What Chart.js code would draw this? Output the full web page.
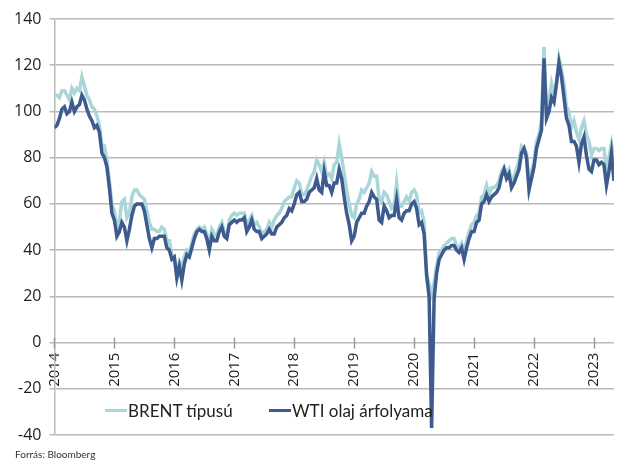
<!DOCTYPE html>
<html>
<head>
<meta charset="utf-8">
<script src="https://cdn.jsdelivr.net/npm/chart.js@4"></script>
<style>
  html, body { margin: 0; padding: 0; background: #fff; }
  #wrap { position: relative; width: 622px; height: 461px; }
  .legend-item { position: absolute; top: 400px; display: flex; align-items: center;
    font: 17px Lato, sans-serif; color: #222; white-space: nowrap; }
  .legend-item .swatch { width: 22px; height: 3.5px; margin-right: 1px; }
  #source { position: absolute; left: 15px; top: 448px; font: 10px Lato, sans-serif; color: #333; }
</style>
</head>
<body>
<div id="wrap">
  <canvas id="chart" width="622" height="461"></canvas>
  <div class="legend-item" style="left:105px"><span class="swatch" style="background:#a9d7d9"></span>BRENT típusú</div>
  <div class="legend-item" style="left:269px"><span class="swatch" style="background:#3d5b8e"></span>WTI olaj árfolyama</div>
  <div id="source">Forrás: Bloomberg</div>
</div>
<script>
// Brent and WTI prices (USD/barrel), two readings per month (1st, 16th), Jan 2014 - end Apr 2023
const startYear = 2014;
const pointsPerYear = 24;

const brent = [
  // 2014
  107, 107, 106, 109, 109, 107, 105, 110, 108, 110, 109, 115,
  111, 107, 105, 102, 101, 98, 94, 85, 85, 79, 70, 60,
  // 2015
  57, 49, 53, 61, 62, 54, 56, 63, 66, 66, 64, 63,
  62, 57, 52, 49, 49, 48, 48, 50, 49, 44, 44, 38,
  // 2016
  37, 29, 35, 33, 37, 40, 39, 43, 47, 49, 50, 49,
  50, 47, 42, 49, 47, 46, 50, 52, 48, 46, 53, 55,
  // 2017
  56, 55, 56, 56, 56, 51, 53, 55, 51, 52, 50, 47,
  48, 49, 52, 50, 53, 55, 56, 58, 61, 62, 63, 63,
  // 2018
  67, 70, 69, 64, 64, 66, 69, 72, 74, 79, 77, 74,
  78, 72, 73, 71, 77, 78, 86, 80, 73, 66, 60, 55,
  // 2019
  54, 60, 62, 66, 65, 67, 69, 74, 72, 72, 62, 61,
  65, 64, 61, 58, 59, 69, 59, 59, 61, 63, 61, 65,
  // 2020
  66, 64, 56, 57, 52, 30, 25, 21, 26, 33, 39, 40,
  42, 43, 44, 45, 45, 42, 41, 43, 39, 44, 48, 51,
  // 2021
  52, 55, 56, 63, 64, 68, 64, 67, 67, 68, 70, 74,
  76, 73, 75, 69, 72, 75, 79, 85, 84, 82, 69, 74,
  // 2022
  78, 87, 90, 96, 128, 100, 105, 112, 107, 113, 123, 118,
  112, 102, 100, 93, 96, 91, 88, 93, 96, 90, 87, 81,
  // 2023
  84, 84, 83, 84, 84, 74, 80, 86, 79
];

const wti = [
  // 2014
  93, 94, 97, 101, 102, 99, 100, 104, 100, 102, 103, 107,
  105, 101, 98, 96, 93, 94, 91, 82, 80, 76, 67, 56,
  // 2015
  53, 46, 48, 52, 50, 44, 49, 55, 59, 60, 60, 60,
  57, 51, 45, 41, 45, 45, 46, 46, 46, 41, 40, 36,
  // 2016
  37, 28, 33, 27, 34, 38, 37, 41, 45, 48, 49, 48,
  48, 45, 40, 46, 44, 44, 48, 50, 46, 45, 51, 52,
  // 2017
  53, 52, 53, 53, 54, 48, 50, 53, 49, 48, 48, 45,
  46, 47, 49, 47, 47, 50, 51, 52, 54, 55, 58, 57,
  // 2018
  60, 64, 65, 61, 61, 62, 65, 66, 67, 71, 66, 65,
  74, 68, 68, 65, 69, 69, 75, 71, 63, 56, 51, 44,
  // 2019
  46, 52, 54, 56, 56, 59, 61, 65, 63, 62, 53, 52,
  59, 57, 54, 55, 55, 62, 54, 53, 56, 57, 57, 60,
  // 2020
  61, 58, 51, 52, 47, 29, 20, -37, 19, 30, 36, 38,
  40, 41, 41, 42, 42, 40, 39, 41, 36, 41, 45, 48,
  // 2021
  48, 52, 53, 60, 61, 64, 61, 63, 64, 65, 67, 72,
  75, 71, 73, 67, 69, 72, 75, 82, 84, 80, 66, 71,
  // 2022
  76, 84, 88, 92, 123, 97, 100, 106, 104, 112, 121, 115,
  106, 97, 94, 87, 87, 85, 78, 86, 89, 81, 75, 74,
  // 2023
  79, 79, 77, 78, 77, 68, 74, 82, 70
];

const yearTicks = [2014, 2015, 2016, 2017, 2018, 2019, 2020, 2021, 2022, 2023];
const xMax = 2023 + 1 / 3;

const toPoints = series => series.map((v, i) => ({ x: startYear + i / pointsPerYear, y: v }));

const gridColor = '#b9b9b9';
const textColor = '#1e1e1e';

// small cross ticks on the zero line at each year
const yearTickMarks = {
  id: 'yearTickMarks',
  beforeDatasetsDraw(chart) {
    const { ctx, scales: { x, y } } = chart;
    const y0 = y.getPixelForValue(0);
    ctx.save();
    ctx.strokeStyle = '#999';
    ctx.lineWidth = 1.5;
    yearTicks.forEach(yr => {
      const px = Math.round(x.getPixelForValue(yr)) + 0.5;
      ctx.beginPath();
      ctx.moveTo(px, y0 - 5);
      ctx.lineTo(px, y0 + 6);
      ctx.stroke();
    });
    ctx.restore();
  }
};

new Chart(document.getElementById('chart'), {
  type: 'line',
  data: {
    datasets: [
      {
        label: 'BRENT típusú',
        data: toPoints(brent),
        borderColor: '#a9d7d9',
        borderWidth: 3.5,
        pointRadius: 0,
        tension: 0,
        order: 2
      },
      {
        label: 'WTI olaj árfolyama',
        data: toPoints(wti),
        borderColor: '#3d5b8e',
        borderWidth: 3.5,
        pointRadius: 0,
        tension: 0,
        order: 1
      }
    ]
  },
  options: {
    responsive: false,
    animation: false,
    devicePixelRatio: 1,
    layout: { padding: { left: 6, top: 19, right: 1, bottom: 26 } },
    plugins: { legend: { display: false }, tooltip: { enabled: false } },
    scales: {
      x: {
        type: 'linear',
        position: { y: 0 },
        min: startYear,
        max: xMax,
        afterBuildTicks: axis => {
          axis.ticks = yearTicks.map(v => ({ value: v }));
        },
        ticks: {
          autoSkip: false,
          minRotation: 90,
          maxRotation: 90,
          padding: 10,
          color: textColor,
          font: { family: "'Open Sans', sans-serif", size: 15 },
          callback: v => String(v)
        },
        grid: { display: true, drawOnChartArea: false, drawTicks: false },
        border: { display: false }
      },
      y: {
        min: -40,
        max: 140,
        ticks: {
          stepSize: 20,
          padding: 8,
          color: textColor,
          font: { family: "'Open Sans', sans-serif", size: 16 }
        },
        grid: { color: gridColor, lineWidth: 1.5, tickLength: 5 },
        border: { display: true, color: gridColor, width: 1.5 }
      }
    }
  },
  plugins: [yearTickMarks]
});
</script>
</body>
</html>
